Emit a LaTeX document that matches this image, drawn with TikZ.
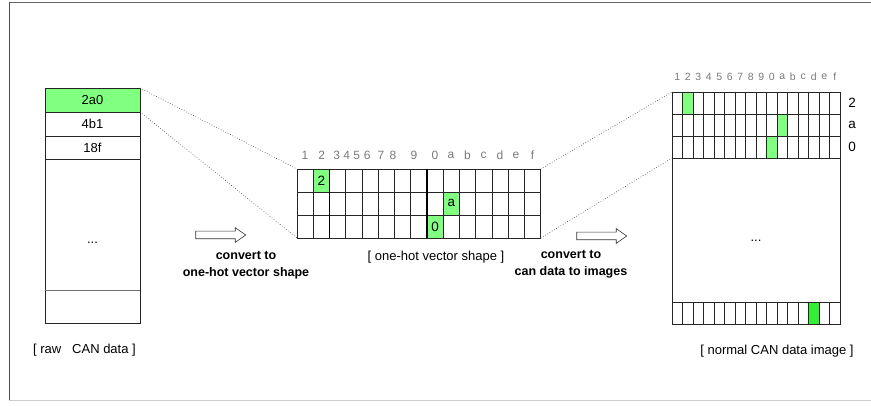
\documentclass[tikz,border=0pt]{standalone}
\usepackage{fontspec}
\setmainfont{Liberation Sans}
\usetikzlibrary{shapes.arrows}
\definecolor{cellgreen}{HTML}{80FF80}
\definecolor{brightgreen}{HTML}{33EE33}
\definecolor{labgray}{HTML}{7A7A7A}
\tikzset{
  gridline/.style={draw=black!85, line width=0.7pt},
  thickline/.style={draw=black, line width=1.4pt},
  conn/.style={dotted, line width=0.6pt, black!80},
  txt/.style={font=\fontsize{13}{15}\selectfont, inner sep=0pt},
  celltxt/.style={font=\fontsize{13.5}{15}\selectfont, inner sep=0pt},
  coltxt/.style={font=\fontsize{12}{14}\selectfont, text=labgray, inner sep=0pt},
  coltxtsmall/.style={font=\fontsize{10.5}{12}\selectfont, text=labgray, inner sep=0pt},
  boldtxt/.style={font=\bfseries\fontsize{12.5}{15}\selectfont, inner sep=0pt, align=center},
  hollowarrow/.style={single arrow, draw=black!80, fill=white, line width=0.6pt,
    minimum height=50pt, minimum width=14pt, inner sep=3.5pt,
    single arrow head extend=3.5pt, single arrow tip angle=70},
}
\begin{document}
\begin{tikzpicture}[x=1pt,y=-1pt]
\useasboundingbox (0,0) rectangle (871,406);
% outer frame
\draw[black!60, line width=0.8pt] (9,2) -- (871,2);
\draw[black!70, line width=0.8pt] (9,2) -- (9,400);
\draw[black!20, line width=1pt] (9,400) -- (871,400);

% ---------- left column: raw CAN data ----------
\fill[cellgreen] (45,88) rectangle (140,112);
\draw[gridline] (45,88) rectangle (140,323);
\foreach \y in {112,136,159} \draw[gridline] (45,\y) -- (140,\y);
\draw[draw=black!55, line width=0.9pt] (45,290) -- (140,290);
\node[txt] (r1) at (92.5,100) {2a0};
\node[txt] (r2) at (92.5,124) {4b1};
\node[txt] (r3) at (92.5,148) {18f};
\node[txt] (rdots) at (92.5,243) {...};
\node[txt, anchor=west] (rawlab) at (33,350) {[ raw\ \ \ CAN data ]};
\coordinate (Ltop) at (140,88);
\coordinate (Lbot) at (140,112);

% ---------- middle grid ----------
\def\mx{297}\def\mw{16.25}
\fill[cellgreen] (\mx+\mw,169) rectangle (\mx+2*\mw,192);
\fill[cellgreen] (\mx+9*\mw,192) rectangle (\mx+10*\mw,215);
\fill[cellgreen] (\mx+8*\mw,215) rectangle (\mx+9*\mw,238);
\foreach \i in {1,...,14} \draw[gridline] (\mx+\i*\mw,169) -- (\mx+\i*\mw,238);
\foreach \y in {192,215} \draw[gridline] (\mx,\y) -- (\mx+15*\mw,\y);
\draw[gridline] (\mx,169) rectangle (\mx+15*\mw,238);
\draw[thickline] (\mx+2*\mw,169) -- (\mx+2*\mw,238);
\draw[thickline] (\mx+8*\mw,169) -- (\mx+8*\mw,238);
\node[celltxt] (m2) at (\mx+1.5*\mw,181) {2};
\node[celltxt] (ma) at (\mx+9.5*\mw,203) {a};
\node[celltxt] (m0) at (\mx+8.5*\mw,227) {0};
\coordinate (Mtl) at (\mx,169);
\coordinate (Mbl) at (\mx,238);
\coordinate (Mtr) at (\mx+15*\mw,169);
\coordinate (Mbr) at (\mx+15*\mw,238);
\foreach \lab/\xx in {1/305,2/321.7,3/336.7,4/346.7,5/356.7,6/367.3,7/381,8/393,9/414,0/435,a/451,b/467.5,c/483.7,d/500,e/516,f/532.5}
  \node[coltxt] at (\xx,155) {\lab};
\node[txt] (onehotlab) at (436,257) {[ one-hot vector shape ]};

% ---------- right grid ----------
\def\rx{672}\def\rw{10.5}
\fill[cellgreen] (\rx+1*\rw,92) rectangle (\rx+2*\rw,114);
\fill[cellgreen] (\rx+10*\rw,114) rectangle (\rx+11*\rw,136);
\fill[cellgreen] (\rx+9*\rw,136) rectangle (\rx+10*\rw,158);
\fill[brightgreen] (\rx+13*\rw,302) rectangle (\rx+14*\rw,324);
\foreach \i in {1,...,15} {
  \draw[gridline] (\rx+\i*\rw,92) -- (\rx+\i*\rw,158);
  \draw[gridline] (\rx+\i*\rw,302) -- (\rx+\i*\rw,324);
}
\foreach \y in {114,136,158,302} \draw[gridline] (\rx,\y) -- (\rx+16*\rw,\y);
\draw[gridline] (\rx,92) rectangle (\rx+16*\rw,324);
\foreach \lab [count=\k] in {1,2,3,4,5,6,7,8,9,0,a,b,c,d,e,f}
  \node[coltxtsmall] at (\rx+\k*\rw-0.5*\rw,77) {\lab};
\node[celltxt] (rl2) at (852,103) {2};
\node[celltxt] (rla) at (852,125) {a};
\node[celltxt] (rl0) at (852,147) {0};
\node[txt] (rdots2) at (756,241) {...};
\node[txt] (normlab) at (777,351) {[ normal CAN data image ]};
\coordinate (Rtl) at (\rx,92);
\coordinate (Rbl) at (\rx,158);

% ---------- dotted connectors ----------
\draw[conn] (Ltop) -- (Mtl);
\draw[conn] (Lbot) -- (Mbl);
\draw[conn] (Mtr) -- (Rtl);
\draw[conn] (Mbr) -- (Rbl);

% ---------- arrows and labels ----------
\node[hollowarrow] (arr1) at (218,235) {};
\node[hollowarrow] (arr2) at (599,236) {};
\node[boldtxt] (conv1) at (246,265) {convert to\\[2pt]one-hot vector shape};
\node[boldtxt] (conv2) at (571,264) {convert to\\[2pt]can data to images};
\end{tikzpicture}
\end{document}
